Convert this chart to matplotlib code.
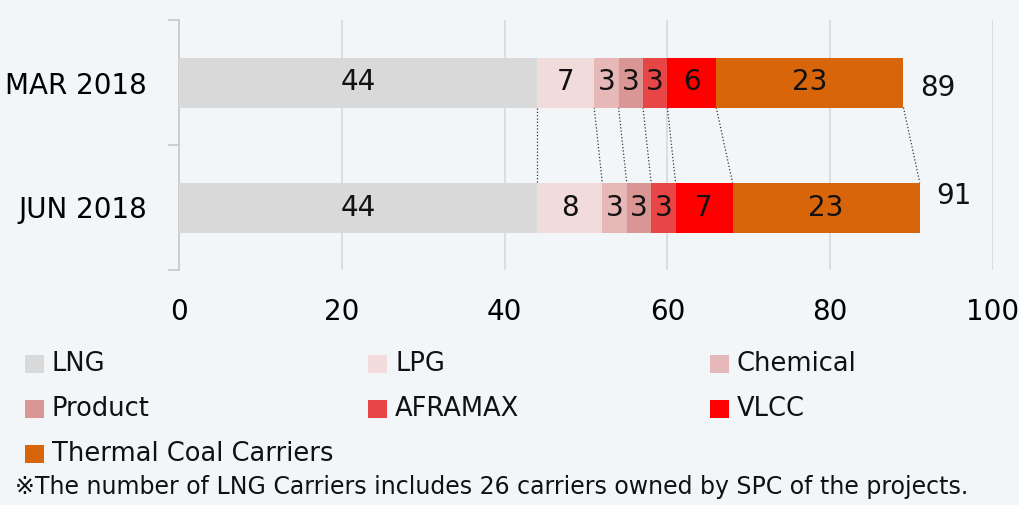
import matplotlib.pyplot as plt
from matplotlib.patches import Rectangle

# data
periods = ['MAR 2018', 'JUN 2018']
categories = ['LNG', 'LPG', 'Chemical', 'Product', 'AFRAMAX', 'VLCC', 'Thermal Coal Carriers']
mar_2018 = [44, 7, 3, 3, 3, 6, 23]
jun_2018 = [44, 8, 3, 3, 3, 7, 23]
colors = ['#d9d9d9', '#f2dcdb', '#e6b9b8', '#d99694', '#e84646', '#ff0000', '#d9650b']
note = '※The number of LNG Carriers includes 26 carriers owned by SPC of the projects.'

plt.rcParams['font.family'] = ['DejaVu Sans', 'Noto Sans CJK JP']

fig = plt.figure(figsize=(10.19, 5.05), dpi=100)
fig.patch.set_facecolor('#f3f6f9')
ax = fig.add_axes([179 / 1019, 1 - 270 / 505, (993 - 179) / 1019, 250 / 505])
ax.set_facecolor('none')

series = [mar_2018, jun_2018]
bar_h = 0.4
for i, vals in enumerate(series):
    left = 0
    for v, c in zip(vals, colors):
        ax.barh(i, v, left=left, height=bar_h, color=c, zorder=3)
        ax.text(left + v / 2, i, str(v), ha='center', va='center', fontsize=20, color='#111111', zorder=4)
        left += v
    ax.text(left + 2, i + (0.04 if i == 0 else -0.09), str(left), ha='left', va='center',
            fontsize=20, color='#111111')

# dotted connectors between the two bars
cum_a, cum_b = 0, 0
for a, b in zip(mar_2018, jun_2018):
    cum_a += a
    cum_b += b
    ax.plot([cum_a, cum_b], [0 + bar_h / 2, 1 - bar_h / 2], ls=':', color='#333333', lw=0.9, zorder=2)

ax.set_xlim(0, 100)
ax.set_ylim(1.5, -0.5)
ax.set_xticks([0, 20, 40, 60, 80, 100])
ax.set_yticks([0, 1])
ax.set_yticklabels(periods)
ax.set_yticks([-0.5, 0.5, 1.5], minor=True)
ax.tick_params(axis='y', which='major', length=0, labelsize=20, pad=23)
ax.tick_params(axis='y', which='minor', length=8, color='#c8c8c8', width=1.2)
ax.tick_params(axis='x', length=0, labelsize=20, pad=20)
ax.xaxis.grid(True, color='#d9d9d9', lw=1.2, zorder=0)
for s in ['top', 'right', 'bottom']:
    ax.spines[s].set_visible(False)
ax.spines['left'].set_color('#c8c8c8')
ax.spines['left'].set_linewidth(1.2)

# legend laid out in a 3-column grid
col_x = [25, 368, 710]
row_bottom = [373, 418, 463]
for k, (name, c) in enumerate(zip(categories, colors)):
    r, col = divmod(k, 3)
    x0 = col_x[col] / 1019
    y0 = 1 - row_bottom[r] / 505
    fig.patches.append(Rectangle((x0, y0), 19 / 1019, 18 / 505, transform=fig.transFigure,
                                 facecolor=c, edgecolor='none'))
    fig.text(x0 + 27 / 1019, y0 + 2 / 505, name, ha='left', va='baseline', fontsize=18.5, color='#111111')

fig.text(15 / 1019, 1 - 494 / 505, note, ha='left', va='baseline', fontsize=17, color='#111111')

fig.savefig('out.png', dpi=100, facecolor=fig.get_facecolor())
